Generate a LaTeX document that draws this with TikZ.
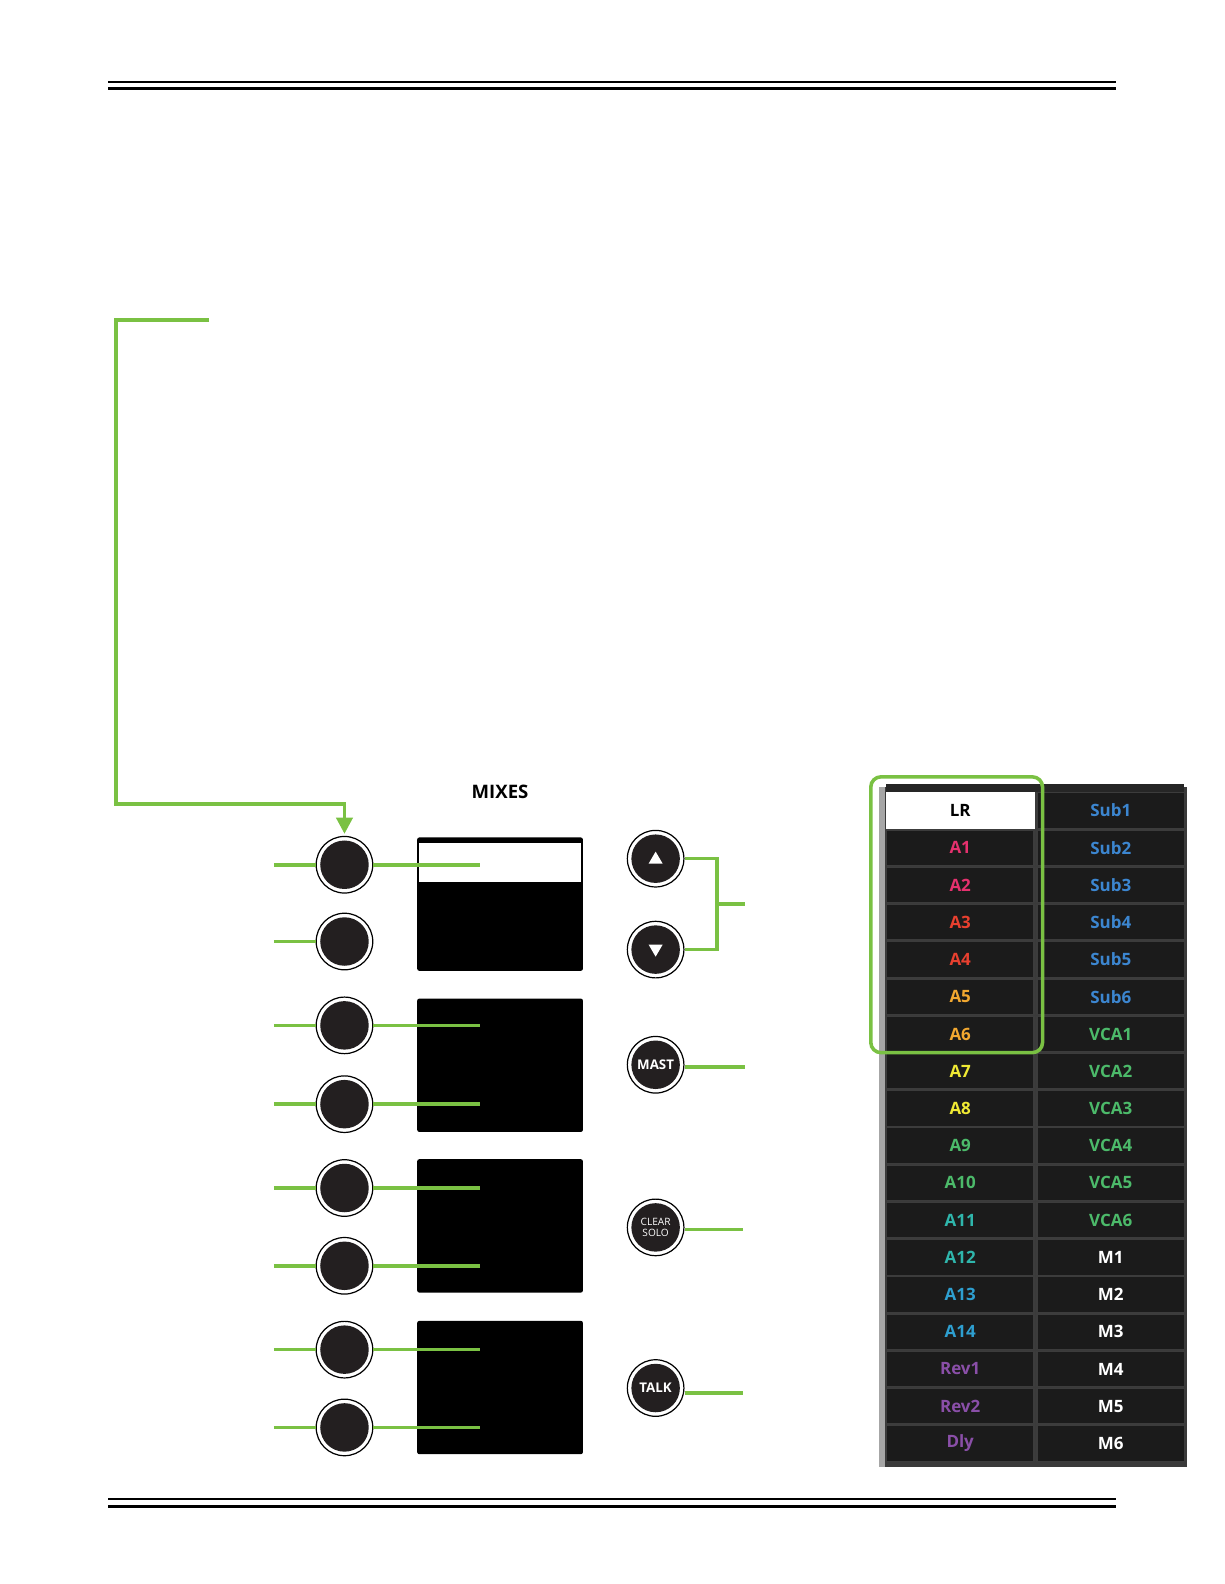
\documentclass[tikz,border=0pt]{standalone}
\usepackage{fontspec}
\setmainfont{Open Sans}
\usetikzlibrary{arrows.meta}
\definecolor{grn}{HTML}{7AC143}
\definecolor{knobc}{HTML}{231F20}
\definecolor{cellc}{HTML}{1B1B1B}
\definecolor{celledge}{HTML}{3C3C3C}
\definecolor{panelc}{HTML}{3A3A3A}
\definecolor{cPink}{HTML}{E5316E}
\definecolor{cRed}{HTML}{E8402F}
\definecolor{cOrange}{HTML}{F2A830}
\definecolor{cYellow}{HTML}{F0EA34}
\definecolor{cGreen}{HTML}{4CBA6A}
\definecolor{cTeal}{HTML}{2FB6AC}
\definecolor{cCyan}{HTML}{2E9FD0}
\definecolor{cPurple}{HTML}{8A4FA8}
\definecolor{cBlue}{HTML}{3C86D0}
\begin{document}
\begin{tikzpicture}[x=0.5pt,y=-0.5pt,
  gline/.style={draw=grn,line width=1.75pt},
  knob/.style={circle,draw=black,line width=0.6pt,fill=white,minimum size=28pt,inner sep=0pt,
    path picture={\fill[knobc] (path picture bounding box.center) circle (12pt);}},
  screen/.style={rectangle,fill=black,rounded corners=1pt,minimum width=82pt,minimum height=66pt,inner sep=0pt},
  cell/.style={rectangle,fill=cellc,draw=celledge,line width=0.6pt,minimum width=73pt,minimum height=17.6pt,inner sep=0pt,font=\fontsize{8.4}{9}\selectfont\bfseries},
  btnlabel/.style={text=white,font=\fontsize{6.6}{6.6}\selectfont\bfseries},
]
\useasboundingbox (0,0) rectangle (1212,1568);

% header / footer rules
\draw[line width=0.75pt] (107,81) -- (1105,81);
\draw[line width=1.6pt] (107,87.5) -- (1105,87.5);
\draw[line width=0.75pt] (107,1484) -- (1105,1484);
\draw[line width=1.6pt] (107,1491) -- (1105,1491);

% screens
\node[screen] (s1) at (495,895) {};
\fill[white] (415,834) rectangle (575,873);
\node[screen] (s2) at (495,1054.5) {};
\node[screen] (s3) at (495,1213.5) {};
\node[screen] (s4) at (495,1373.5) {};

\node[font=\fontsize{9.2}{10}\selectfont\bfseries] (mixes) at (495,784) {MIXES};

% left knobs
\foreach \y [count=\i] in {856,932,1015,1093,1176,1253,1336,1413}{
  \node[knob] (k\i) at (341,\y) {};
  \coordinate (kl\i) at (271,\y);
  \coordinate (kr\i) at (475,\y);
  \draw[gline] (kl\i) -- (k\i.west);
}
\foreach \i in {1,3,4,5,6,7,8}{
  \draw[gline] (k\i.east) -- (kr\i);
}

% long arrow
\coordinate (astart) at (207,317);
\draw[gline,-{Triangle[length=8pt,width=8pt]}] (astart) -- (115,317) -- (115,796) -- (341,796) -- ([yshift=1pt]k1.north);

% right buttons
\node[knob,path picture={\fill[knobc] (path picture bounding box.center) circle (12pt);
   \fill[white] ([shift={(-7,5)}]path picture bounding box.center) -- ([shift={(7,5)}]path picture bounding box.center) -- ([shift={(0,-7)}]path picture bounding box.center) -- cycle;}] (up) at (649,850) {};
\node[knob,path picture={\fill[knobc] (path picture bounding box.center) circle (12pt);
   \fill[white] ([shift={(-7,-5)}]path picture bounding box.center) -- ([shift={(7,-5)}]path picture bounding box.center) -- ([shift={(0,7)}]path picture bounding box.center) -- cycle;}] (down) at (649,940) {};
\node[knob,btnlabel] (mast) at (649,1054) {MAST};
\node[knob,text=white,font=\fontsize{5}{5.2}\selectfont,align=center] (clear) at (649,1215) {CLEAR\\SOLO};
\node[knob,btnlabel] (talk) at (649,1374) {TALK};

\coordinate (bk) at (710,895);
\coordinate (bkend) at (737,895);
\draw[gline] (up.east) -- (bk |- up.east) -- (bk |- down.east) -- (down.east);
\draw[gline] (bk) -- (bkend);
\coordinate (mastend) at (737,1056);
\coordinate (clearend) at (735,1217);
\coordinate (talkend) at (735,1379);
\draw[gline] (mast.east |- mastend) -- (mastend);
\draw[gline] (clear.east |- clearend) -- (clearend);
\draw[gline] (talk.east |- talkend) -- (talkend);

% right panel
\fill[panelc] (870,779) rectangle (1175,1452);
\fill[gray!70] (870,779) rectangle (876,1452);
\fill[black!85] (877,776) rectangle (1172,784);
\foreach \lab/\col [count=\i] in {LR/black,A1/cPink,A2/cPink,A3/cRed,A4/cRed,A5/cOrange,A6/cOrange,A7/cYellow,A8/cYellow,A9/cGreen,A10/cGreen,A11/cTeal,A12/cTeal,A13/cCyan,A14/cCyan,Rev1/cPurple,Rev2/cPurple,Dly/cPurple}{
  \pgfmathsetmacro\yy{784+36.85*(\i-0.5)}
  \ifnum\i=1
    \node[cell,fill=white,draw=white,text=black] (L\i) at (950.5,\yy) {\lab};
  \else
    \node[cell,text=\col] (L\i) at (950.5,\yy) {\lab};
  \fi
}
\foreach \lab/\col [count=\i] in {Sub1/cBlue,Sub2/cBlue,Sub3/cBlue,Sub4/cBlue,Sub5/cBlue,Sub6/cBlue,VCA1/cGreen,VCA2/cGreen,VCA3/cGreen,VCA4/cGreen,VCA5/cGreen,VCA6/cGreen,M1/white,M2/white,M3/white,M4/white,M5/white,M6/white}{
  \pgfmathsetmacro\yy{784+36.85*(\i-0.5)}
  \node[cell,text=\col] (R\i) at (1099.5,\yy) {\lab};
}

% highlight frame
\draw[draw=grn,line width=1.75pt,rounded corners=5pt] (862,769) rectangle (1032,1042);
\end{tikzpicture}
\end{document}
